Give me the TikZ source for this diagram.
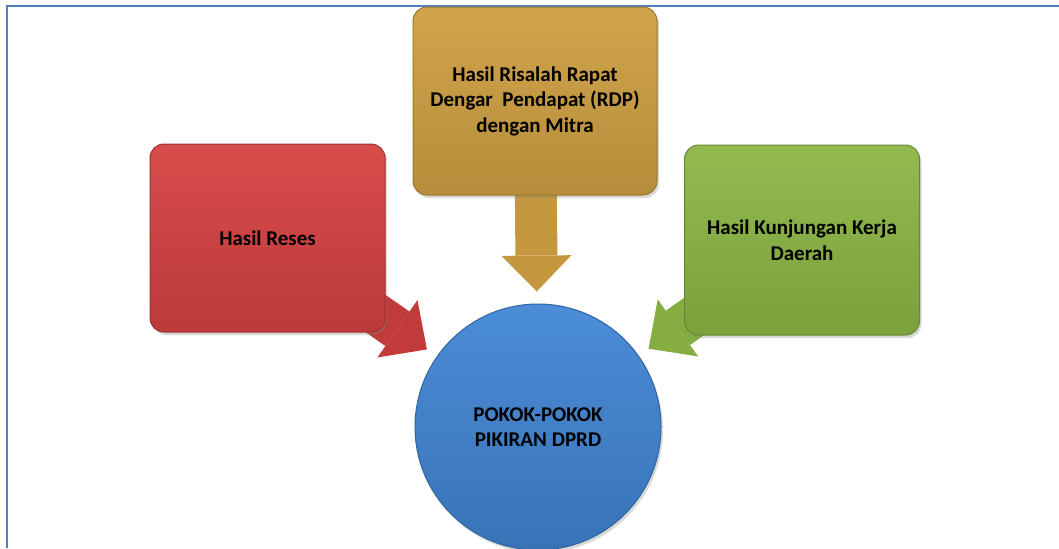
\documentclass[tikz,border=0pt]{standalone}
\usepackage{fontspec}
\setsansfont{Carlito}
\usetikzlibrary{arrows.meta,backgrounds,shadows}
\usepackage{xcolor}
\definecolor{resesred}{HTML}{D64242}
\definecolor{rdpgold}{HTML}{CFA042}
\definecolor{kunkergreen}{HTML}{8DB645}
\definecolor{pokokblue}{HTML}{4287D6}
\definecolor{framecol}{HTML}{4F81BD}

\begin{document}
\begin{tikzpicture}[
    x=0.5pt, y=-0.5pt,
    every node/.style={align=center, font=\sffamily\bfseries\fontsize{10.5}{12.75}\selectfont},
    box/.style={rounded corners=7pt, draw=#1!75!black, line width=0.5pt,
        top color=#1!95!white, bottom color=#1!88!black,
        minimum width=117.5pt, minimum height=94pt,
        drop shadow={opacity=0.3, shadow xshift=1pt, shadow yshift=-1.5pt}},
    bigarrow/.style={line width=21pt, draw=#1,
        -{Triangle[length=18pt 0 0, width=35pt 0 0, line width=0pt 0 0]}, shorten >=6pt}
]

\useasboundingbox (0,0) rectangle (1059,548);
\draw[framecol, line width=1pt] (7,548) -- (7,6) -- (1059,6);

\node[box=resesred] (1) at (267.5,238) {Hasil Reses};
\node[box=rdpgold, minimum width=122pt] (2) at (535,101) {Hasil Risalah Rapat\\Dengar~~Pendapat (RDP)\\dengan Mitra};
\node[box=kunkergreen, minimum height=95pt] (3) at (802,240) {Hasil Kunjungan Kerja\\Daerah};
\node[circle, draw=pokokblue!75!black, line width=0.5pt, minimum size=123pt,
    top color=pokokblue!95!white, bottom color=pokokblue!85!black,
    drop shadow={opacity=0.3, shadow xshift=1pt, shadow yshift=-1.5pt}] (0) at (538,427) {POKOK-POKOK\\PIKIRAN DPRD};

\begin{scope}[on background layer]
\draw[bigarrow=resesred!90!black] (1.center) -- (0);
\draw[bigarrow=rdpgold!95!black] (2.center) -- (0);
\draw[bigarrow=kunkergreen!95!black] (3.center) -- (0);
\end{scope}

\end{tikzpicture}
\end{document}
